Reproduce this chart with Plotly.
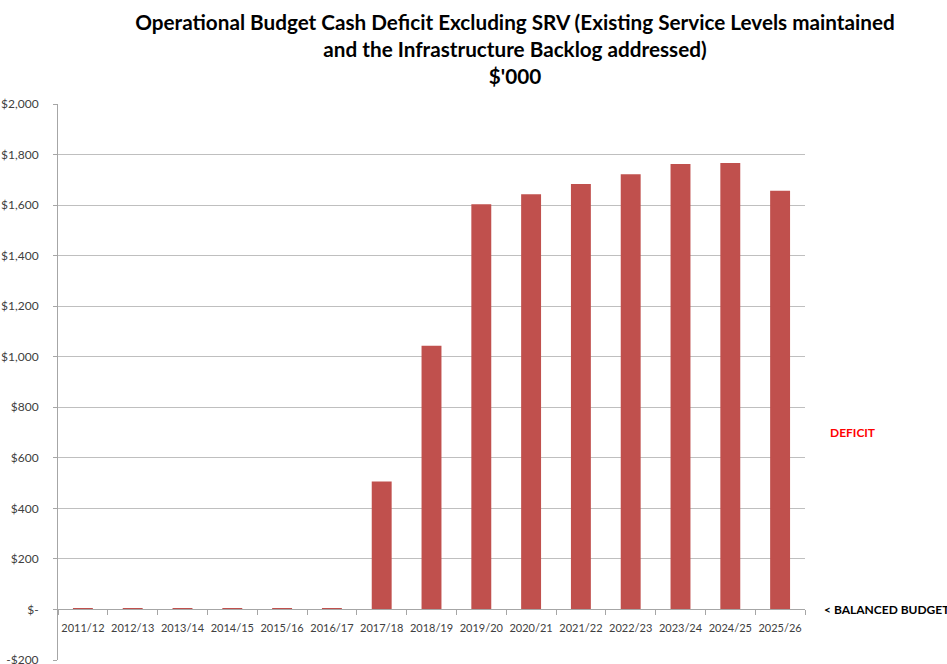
import plotly.graph_objects as go

years = ["2011/12", "2012/13", "2013/14", "2014/15", "2015/16", "2016/17", "2017/18",
         "2018/19", "2019/20", "2020/21", "2021/22", "2022/23", "2023/24", "2024/25", "2025/26"]
deficit = [2, 2, 2, 2, 2, 2, 506, 1043, 1603, 1643, 1683, 1722, 1763, 1767, 1657]

y_ticks = [-200, 0, 200, 400, 600, 800, 1000, 1200, 1400, 1600, 1800, 2000]
y_tick_text = ["-$200", "$-", "$200", "$400", "$600", "$800", "$1,000", "$1,200",
               "$1,400", "$1,600", "$1,800", "$2,000"]
y_min, y_max = -200, 2000

FONT = "Lato, 'Open Sans', sans-serif"

fig = go.Figure()
fig.add_trace(go.Bar(x=years, y=deficit, marker=dict(color="#C0504D", line=dict(width=0)),
                     showlegend=False))

# the category axis sits on the zero line
zero_pos = (0 - y_min) / (y_max - y_min)

fig.update_layout(
    width=947, height=667,
    margin=dict(l=58, r=142, t=104, b=0),
    paper_bgcolor="white", plot_bgcolor="white",
    bargap=0.6,
    font=dict(family=FONT, size=11, color="#404040"),
    title=dict(
        text="Operational Budget Cash Deficit Excluding SRV (Existing Service Levels maintained<br>"
             "and the Infrastructure Backlog addressed)<br>$'000",
        x=515 / 947, xanchor="center", xref="container",
        y=1 - 30 / 667, yanchor="middle", yref="container",
        font=dict(family=FONT, size=20.7, color="black", weight="bold"),
    ),
    xaxis=dict(
        type="category", anchor="free", position=zero_pos,
        showline=True, linecolor="#a6a6a6", linewidth=1,
        ticks="outside", tickson="boundaries", ticklen=5, tickcolor="#a6a6a6",
        showgrid=False, tickangle=0, ticklabelstandoff=8,
        tickfont=dict(size=11, color="#404040"),
    ),
    yaxis=dict(
        range=[y_min, y_max], domain=[0, 1],
        tickvals=y_ticks, ticktext=y_tick_text,
        showline=True, linecolor="#a6a6a6", linewidth=1,
        ticks="outside", ticklen=4, tickcolor="#a6a6a6",
        showgrid=True, gridcolor="#bfbfbf", gridwidth=1,
        zeroline=False, ticklabelstandoff=12, ticklabeloverflow="allow",
        tickfont=dict(size=12, color="#404040"),
    ),
    annotations=[
        dict(text="DEFICIT", xref="paper", yref="y", x=1.0, y=700, xshift=23,
             xanchor="left", yanchor="middle", showarrow=False,
             font=dict(family=FONT, size=12, color="#ff0000", weight="bold")),
        dict(text="< BALANCED BUDGET", xref="paper", yref="y", x=1.0, y=0, xshift=17,
             xanchor="left", yanchor="middle", showarrow=False,
             font=dict(family=FONT, size=12, color="black", weight="bold")),
    ],
)

fig.write_html("out.html")
